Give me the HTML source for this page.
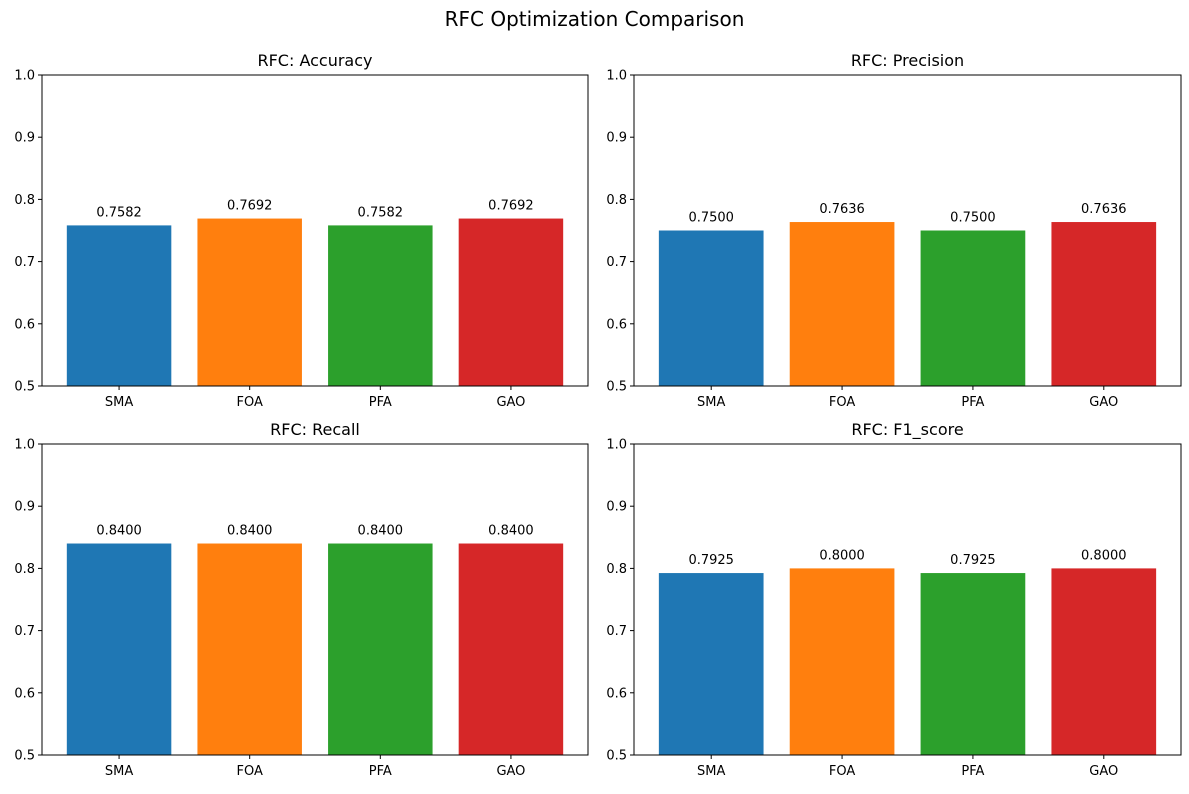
<!DOCTYPE html>
<html><head><meta charset="utf-8"><style>
body{margin:0;background:#fff;font-family:"Liberation Sans","DejaVu Sans",sans-serif}
svg text{font-family:"DejaVu Sans","Liberation Sans",sans-serif}
</style></head><body>
<svg id="chart" width="1189" height="789" xmlns="http://www.w3.org/2000/svg">
<text x="594.5" y="26" font-size="20" text-anchor="middle" fill="#000">RFC Optimization Comparison</text>
</svg>
<script>
const categories = ["SMA","FOA","PFA","GAO"];
const colors = ["#1f77b4","#ff7f0e","#2ca02c","#d62728"];
const metricTitles = ["RFC: Accuracy","RFC: Precision","RFC: Recall","RFC: F1_score"];
const accuracyValues = [0.7582,0.7692,0.7582,0.7692];
const precisionValues = [0.7500,0.7636,0.7500,0.7636];
const recallValues = [0.8400,0.8400,0.8400,0.8400];
const f1Values = [0.7925,0.8000,0.7925,0.8000];
const yTicks = [0.5,0.6,0.7,0.8,0.9,1.0];
const tickLabels = ["0.5","0.6","0.7","0.8","0.9","1.0"];
const seriesList = [accuracyValues,precisionValues,recallValues,f1Values];
const NS="http://www.w3.org/2000/svg";
const svg=document.getElementById('chart');
const panels=[{x0:42,x1:588,y0:75,y1:386},{x0:634,x1:1181,y0:75,y1:386},{x0:42,x1:588,y0:444,y1:755},{x0:634,x1:1181,y0:444,y1:755}];
function mk(tag,attrs,parent){const e=document.createElementNS(NS,tag);for(const k in attrs)e.setAttribute(k,attrs[k]);(parent||svg).appendChild(e);return e;}
panels.forEach((p,pi)=>{
  const g=mk('g',{});
  
  
  const vals=seriesList[pi];
  const xmin=-0.59,xmax=3.59;
  const xs=v=>p.x0+(v-xmin)/(xmax-xmin)*(p.x1-p.x0);
  const ys=v=>p.y1-(v-0.5)/0.5*(p.y1-p.y0);
  vals.forEach((v,i)=>{
    const r=mk('rect',{x:xs(i-0.4),y:ys(v),width:xs(i+0.4)-xs(i-0.4),height:p.y1-ys(v),fill:colors[i]},g);
    
    
    const t=mk('text',{x:xs(i),y:ys(v)-9,'font-size':13,'text-anchor':'middle',fill:'#000'},g);
    t.textContent=v.toFixed(4);
    
    
    mk('line',{x1:xs(i),x2:xs(i),y1:p.y1,y2:p.y1+4,stroke:'#000'},g);
    const xl=mk('text',{x:xs(i),y:p.y1+20,'font-size':13,'text-anchor':'middle',fill:'#000'},g);
    xl.textContent=categories[i];
    
    
  });
  yTicks.forEach((v,i)=>{
    mk('line',{x1:p.x0-4,x2:p.x0,y1:ys(v),y2:ys(v),stroke:'#000'},g);
    const t=mk('text',{x:p.x0-7,y:ys(v)+4.5,'font-size':13,'text-anchor':'end',fill:'#000'},g);
    t.textContent=tickLabels[i];
    
    
  });
  const fr=mk('rect',{x:p.x0,y:p.y0,width:p.x1-p.x0,height:p.y1-p.y0,fill:'none',stroke:'#000','stroke-width':1},g);
  
  
  const ti=mk('text',{x:(p.x0+p.x1)/2,y:p.y0-9,'font-size':16,'text-anchor':'middle',fill:'#000'},g);
  ti.textContent=metricTitles[pi];
  
  
});
</script>
</body></html>
